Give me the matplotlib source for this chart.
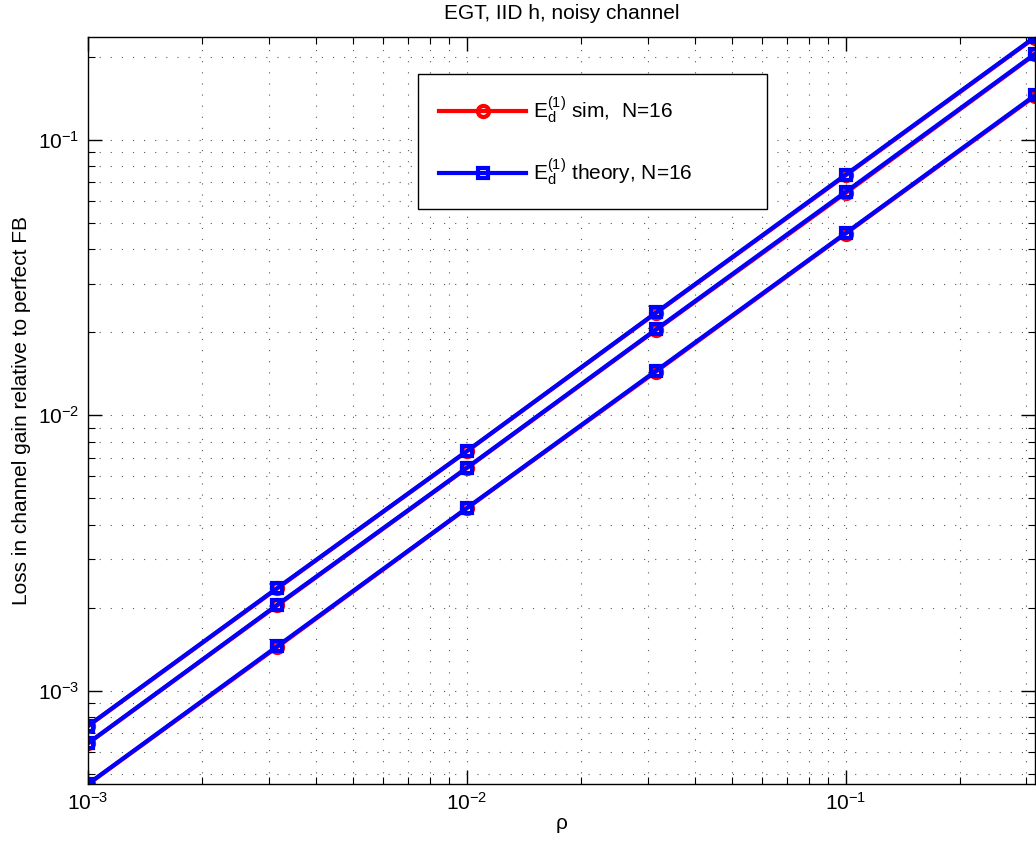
import matplotlib
matplotlib.use("Agg")
from matplotlib import pyplot as plt

plt.rcParams["font.family"] = ["Liberation Sans", "DejaVu Sans"]
plt.rcParams["mathtext.fontset"] = "custom"
plt.rcParams["mathtext.rm"] = "Liberation Sans"
plt.rcParams["mathtext.it"] = "Liberation Sans"
plt.rcParams["mathtext.default"] = "regular"

rho = [1e-3, 3.162e-3, 1e-2, 3.162e-2, 1e-1, 3.162e-1]

# simulated loss, three curves
sim_1 = [7.43e-4, 2.35e-3, 7.39e-3, 2.35e-2, 7.42e-2, 0.235]
sim_2 = [6.43e-4, 2.04e-3, 6.42e-3, 2.04e-2, 6.40e-2, 0.204]
sim_3 = [4.57e-4, 1.44e-3, 4.59e-3, 1.44e-2, 4.56e-2, 0.144]

# theoretical loss, three curves
theory_1 = [7.45e-4, 2.36e-3, 7.40e-3, 2.36e-2, 7.46e-2, 0.236]
theory_2 = [6.44e-4, 2.05e-3, 6.44e-3, 2.05e-2, 6.46e-2, 0.205]
theory_3 = [4.58e-4, 1.45e-3, 4.60e-3, 1.45e-2, 4.58e-2, 0.145]

fig = plt.figure(figsize=(10.36, 8.52), dpi=100)
ax = fig.add_axes([88 / 1036, 1 - 784 / 852, 947 / 1036, 747 / 852])

for i, ys in enumerate([sim_1, sim_2, sim_3]):
    ax.loglog(rho, ys, color="red", marker="o", lw=3, ms=8, mew=3, mfc="none",
              label=r"$E_d^{(1)}$ sim,  N=16" if i == 0 else None)
for i, ys in enumerate([theory_1, theory_2, theory_3]):
    ax.loglog(rho, ys, color="blue", marker="s", lw=3, ms=7.5, mew=3, mfc="none",
              label=r"$E_d^{(1)}$ theory, N=16" if i == 0 else None)

ax.set_xlim(1e-3, 10 ** -0.5)
ax.set_ylim(4.58e-4, 0.236)

ax.grid(True, which="both", color="0.35", linestyle=(0, (1, 9)), linewidth=0.8)
ax.tick_params(which="both", direction="in", top=True, right=True, labelsize=15)
ax.tick_params(which="major", length=10, width=1, pad=6)
ax.tick_params(which="minor", length=5, width=0.8)
for sp in ax.spines.values():
    sp.set_linewidth(1)

ax.set_title("EGT, IID h, noisy channel", fontsize=15, pad=13)
ax.set_xlabel("ρ", fontsize=15, labelpad=0)
ax.set_ylabel("Loss in channel gain relative to perfect FB", fontsize=15, labelpad=5)

leg = ax.legend(loc="upper left", bbox_to_anchor=(0.3485, 0.7703, 0.3686, 0.1807),
                mode="expand", fontsize=15, handlelength=4.2, handletextpad=0.3,
                labelspacing=1.5, borderpad=1.0, borderaxespad=0,
                fancybox=False, framealpha=1, edgecolor="black")
leg.get_frame().set_linewidth(1)

fig.savefig("out.png", dpi=100)
